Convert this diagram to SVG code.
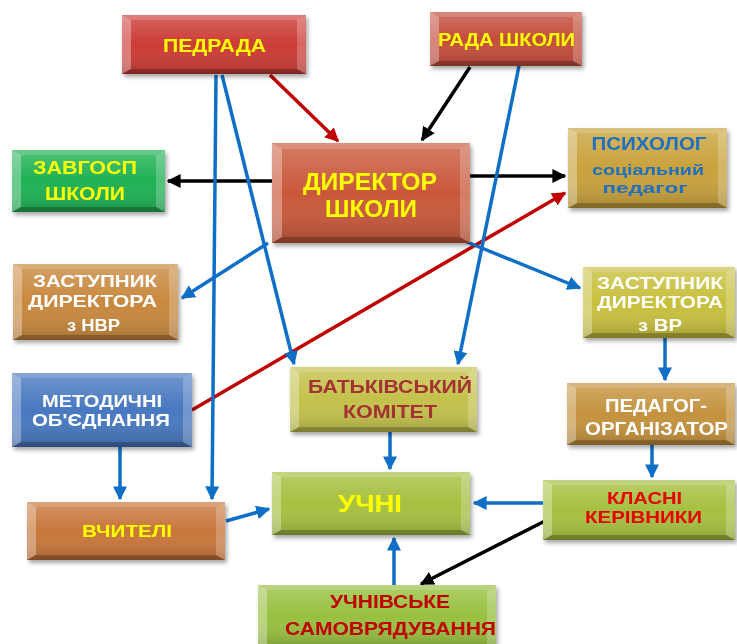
<svg xmlns="http://www.w3.org/2000/svg" width="737" height="644" viewBox="0 0 737 644">
<defs>
<linearGradient id="shade" x1="0" y1="0" x2="0" y2="1">
<stop offset="0" stop-color="#fff" stop-opacity="0.22"/>
<stop offset="0.5" stop-color="#fff" stop-opacity="0"/>
<stop offset="1" stop-color="#000" stop-opacity="0.18"/>
</linearGradient>
<filter id="sh" x="-10%" y="-10%" width="125%" height="130%">
<feDropShadow dx="2" dy="3" stdDeviation="2" flood-color="#000" flood-opacity="0.35"/>
</filter>
<marker id="ab" viewBox="0 0 10 10" refX="9" refY="5" markerWidth="4" markerHeight="4" orient="auto" markerUnits="strokeWidth"><path d="M0,0 L10,5 L0,10 z" fill="#0f6fc6"/></marker>
<marker id="ak" viewBox="0 0 10 10" refX="9" refY="5" markerWidth="4" markerHeight="4" orient="auto" markerUnits="strokeWidth"><path d="M0,0 L10,5 L0,10 z" fill="#000"/></marker>
<marker id="ar" viewBox="0 0 10 10" refX="9" refY="5" markerWidth="4" markerHeight="4" orient="auto" markerUnits="strokeWidth"><path d="M0,0 L10,5 L0,10 z" fill="#c00000"/></marker>
</defs>
<style>
text{font-family:"Liberation Sans",Arial,sans-serif;font-weight:bold;text-anchor:middle}
.bl{fill:#fff;opacity:0.32}
.br{fill:#fff;opacity:0.22}
.bt{fill:#fff;opacity:0.15}
.bb{fill:#000;opacity:0.22}
.c{fill:none;stroke-width:3.5}
.cb{stroke:#0f6fc6;marker-end:url(#ab)}
.ck{stroke:#000;marker-end:url(#ak)}
.cr{stroke:#c00000;marker-end:url(#ar)}
.y{fill:#ffff00}
.w{fill:#fff}
</style>
<rect width="737" height="644" fill="#fff"/>

<g id="connectors">
<line class="c cr" x1="270" y1="75" x2="338" y2="141"/>
<line class="c ck" x1="470" y1="67" x2="422" y2="140"/>
<line class="c ck" x1="272" y1="181" x2="168" y2="181"/>
<line class="c ck" x1="470" y1="176" x2="565" y2="176"/>
<line class="c cr" x1="192" y1="410" x2="565" y2="193"/>
<line class="c cb" x1="216" y1="75" x2="212" y2="499"/>
<line class="c cb" x1="222" y1="75" x2="294" y2="364"/>
<line class="c cb" x1="519" y1="66" x2="458" y2="364"/>
<line class="c cb" x1="268" y1="243" x2="182" y2="298"/>
<line class="c cb" x1="462" y1="240" x2="580" y2="288"/>
<line class="c cb" x1="665" y1="338" x2="665" y2="380"/>
<line class="c cb" x1="652" y1="445" x2="652" y2="477"/>
<line class="c cb" x1="390" y1="432" x2="390" y2="469"/>
<line class="c cb" x1="543" y1="503" x2="474" y2="503"/>
<line class="c cb" x1="226" y1="521" x2="269" y2="509"/>
<line class="c cb" x1="394" y1="585" x2="394" y2="538"/>
<line class="c ck" x1="545" y1="521" x2="421" y2="584"/>
<line class="c cb" x1="120" y1="447" x2="120" y2="499"/>
</g>

<g id="pedrada" filter="url(#sh)">
<rect x="122" y="15" width="184" height="59" fill="#cc3b35"/>
<rect x="122" y="15" width="184" height="59" fill="url(#shade)"/>
<polygon class="bl" points="122,15 131,20 131,69 122,74"/>
<polygon class="br" points="306,15 297,20 297,69 306,74"/>
<polygon class="bt" points="122,15 306,15 297,20 131,20"/>
<polygon class="bb" points="122,74 306,74 297,69 131,69"/>
<text class="y" x="214.5" y="52" font-size="19" textLength="103" lengthAdjust="spacingAndGlyphs">ПЕДРАДА</text>
</g>

<g id="rada" filter="url(#sh)">
<rect x="430" y="12" width="152" height="54" fill="#c44d3c"/>
<rect x="430" y="12" width="152" height="54" fill="url(#shade)"/>
<polygon class="bl" points="430,12 439,17 439,61 430,66"/>
<polygon class="br" points="582,12 573,17 573,61 582,66"/>
<polygon class="bt" points="430,12 582,12 573,17 439,17"/>
<polygon class="bb" points="430,66 582,66 573,61 439,61"/>
<text class="y" x="506.5" y="46" font-size="19" textLength="137" lengthAdjust="spacingAndGlyphs">РАДА ШКОЛИ</text>
</g>

<g id="dyrektor" filter="url(#sh)">
<rect x="272" y="143" width="198" height="100" fill="#c9583a"/>
<rect x="272" y="143" width="198" height="100" fill="url(#shade)"/>
<polygon class="bl" points="272,143 282,149 282,237 272,243"/>
<polygon class="br" points="470,143 460,149 460,237 470,243"/>
<polygon class="bt" points="272,143 470,143 460,149 282,149"/>
<polygon class="bb" points="272,243 470,243 460,237 282,237"/>
<text class="y" x="370" y="190" font-size="24" textLength="134" lengthAdjust="spacingAndGlyphs">ДИРЕКТОР</text>
<text class="y" x="371" y="217" font-size="24" textLength="92" lengthAdjust="spacingAndGlyphs">ШКОЛИ</text>
</g>

<g id="psycholog" filter="url(#sh)">
<rect x="568" y="128" width="159" height="80" fill="#c9a23c"/>
<rect x="568" y="128" width="159" height="80" fill="url(#shade)"/>
<polygon class="bl" points="568,128 577,133 577,203 568,208"/>
<polygon class="br" points="727,128 718,133 718,203 727,208"/>
<polygon class="bt" points="568,128 727,128 718,133 577,133"/>
<polygon class="bb" points="568,208 727,208 718,203 577,203"/>
<text x="649" y="150" font-size="18" fill="#1f6fc0" textLength="115" lengthAdjust="spacingAndGlyphs">ПСИХОЛОГ</text>
<text x="648" y="175" font-size="15" fill="#1f6fc0" textLength="112" lengthAdjust="spacingAndGlyphs">соціальний</text>
<text x="645" y="193" font-size="15" fill="#1f6fc0" textLength="85" lengthAdjust="spacingAndGlyphs">педагог</text>
</g>

<g id="zavgosp" filter="url(#sh)">
<rect x="12" y="150" width="153" height="62" fill="#1fb154"/>
<rect x="12" y="150" width="153" height="62" fill="url(#shade)"/>
<polygon class="bl" points="12,150 21,155 21,207 12,212"/>
<polygon class="br" points="165,150 156,155 156,207 165,212"/>
<polygon class="bt" points="12,150 165,150 156,155 21,155"/>
<polygon class="bb" points="12,212 165,212 156,207 21,207"/>
<text class="y" x="85" y="174" font-size="18" textLength="104" lengthAdjust="spacingAndGlyphs">ЗАВГОСП</text>
<text class="y" x="85" y="200" font-size="18" textLength="80" lengthAdjust="spacingAndGlyphs">ШКОЛИ</text>
</g>

<g id="nvr" filter="url(#sh)">
<rect x="13" y="264" width="165" height="76" fill="#c8883e"/>
<rect x="13" y="264" width="165" height="76" fill="url(#shade)"/>
<polygon class="bl" points="13,264 22,269 22,335 13,340"/>
<polygon class="br" points="178,264 169,269 169,335 178,340"/>
<polygon class="bt" points="13,264 178,264 169,269 22,269"/>
<polygon class="bb" points="13,340 178,340 169,335 22,335"/>
<text class="w" x="95" y="287" font-size="17" textLength="124" lengthAdjust="spacingAndGlyphs">ЗАСТУПНИК</text>
<text class="w" x="92.5" y="307" font-size="17" textLength="129" lengthAdjust="spacingAndGlyphs">ДИРЕКТОРА</text>
<text class="w" x="93.5" y="331" font-size="16" textLength="53" lengthAdjust="spacingAndGlyphs">з НВР</text>
</g>

<g id="vr" filter="url(#sh)">
<rect x="583" y="267" width="152" height="71" fill="#c8c03e"/>
<rect x="583" y="267" width="152" height="71" fill="url(#shade)"/>
<polygon class="bl" points="583,267 592,272 592,333 583,338"/>
<polygon class="br" points="735,267 726,272 726,333 735,338"/>
<polygon class="bt" points="583,267 735,267 726,272 592,272"/>
<polygon class="bb" points="583,338 735,338 726,333 592,333"/>
<text class="w" x="660" y="289" font-size="16" textLength="126" lengthAdjust="spacingAndGlyphs">ЗАСТУПНИК</text>
<text class="w" x="660" y="308" font-size="16" textLength="126" lengthAdjust="spacingAndGlyphs">ДИРЕКТОРА</text>
<text class="w" x="660" y="331" font-size="16" textLength="44" lengthAdjust="spacingAndGlyphs">з ВР</text>
</g>

<g id="metod" filter="url(#sh)">
<rect x="12" y="373" width="180" height="74" fill="#4878c0"/>
<rect x="12" y="373" width="180" height="74" fill="url(#shade)"/>
<polygon class="bl" points="12,373 21,378 21,442 12,447"/>
<polygon class="br" points="192,373 183,378 183,442 192,447"/>
<polygon class="bt" points="12,373 192,373 183,378 21,378"/>
<polygon class="bb" points="12,447 192,447 183,442 21,442"/>
<text class="w" x="102" y="407" font-size="17" textLength="120" lengthAdjust="spacingAndGlyphs">МЕТОДИЧНІ</text>
<text class="w" x="101" y="426" font-size="17" textLength="138" lengthAdjust="spacingAndGlyphs">ОБ'ЄДНАННЯ</text>
</g>

<g id="batk" filter="url(#sh)">
<rect x="290" y="367" width="187" height="65" fill="#c4c24c"/>
<rect x="290" y="367" width="187" height="65" fill="url(#shade)"/>
<polygon class="bl" points="290,367 299,372 299,427 290,432"/>
<polygon class="br" points="477,367 468,372 468,427 477,432"/>
<polygon class="bt" points="290,367 477,367 468,372 299,372"/>
<polygon class="bb" points="290,432 477,432 468,427 299,427"/>
<text x="390" y="393" font-size="18" fill="#a33232" textLength="164" lengthAdjust="spacingAndGlyphs">БАТЬКІВСЬКИЙ</text>
<text x="390" y="418" font-size="18" fill="#a33232" textLength="94" lengthAdjust="spacingAndGlyphs">КОМІТЕТ</text>
</g>

<g id="pedorg" filter="url(#sh)">
<rect x="567" y="383" width="168" height="62" fill="#c4923e"/>
<rect x="567" y="383" width="168" height="62" fill="url(#shade)"/>
<polygon class="bl" points="567,383 576,388 576,440 567,445"/>
<polygon class="br" points="735,383 726,388 726,440 735,445"/>
<polygon class="bt" points="567,383 735,383 726,388 576,388"/>
<polygon class="bb" points="567,445 735,445 726,440 576,440"/>
<text class="w" x="656" y="412" font-size="18" textLength="102" lengthAdjust="spacingAndGlyphs">ПЕДАГОГ-</text>
<text class="w" x="656.5" y="435" font-size="18" textLength="143" lengthAdjust="spacingAndGlyphs">ОРГАНІЗАТОР</text>
</g>

<g id="uchni" filter="url(#sh)">
<rect x="272" y="472" width="198" height="63" fill="#a6c040"/>
<rect x="272" y="472" width="198" height="63" fill="url(#shade)"/>
<polygon class="bl" points="272,472 281,477 281,530 272,535"/>
<polygon class="br" points="470,472 461,477 461,530 470,535"/>
<polygon class="bt" points="272,472 470,472 461,477 281,477"/>
<polygon class="bb" points="272,535 470,535 461,530 281,530"/>
<text class="y" x="370" y="512" font-size="23" textLength="64" lengthAdjust="spacingAndGlyphs">УЧНІ</text>
</g>

<g id="klasni" filter="url(#sh)">
<rect x="543" y="480" width="192" height="60" fill="#a6c040"/>
<rect x="543" y="480" width="192" height="60" fill="url(#shade)"/>
<polygon class="bl" points="543,480 552,485 552,535 543,540"/>
<polygon class="br" points="735,480 726,485 726,535 735,540"/>
<polygon class="bt" points="543,480 735,480 726,485 552,485"/>
<polygon class="bb" points="543,540 735,540 726,535 552,535"/>
<text x="644.5" y="504" font-size="17" fill="#e80000" textLength="75" lengthAdjust="spacingAndGlyphs">КЛАСНІ</text>
<text x="643.5" y="523" font-size="17" fill="#e80000" textLength="117" lengthAdjust="spacingAndGlyphs">КЕРІВНИКИ</text>
</g>

<g id="vchyteli" filter="url(#sh)">
<rect x="27" y="502" width="198" height="58" fill="#c8763a"/>
<rect x="27" y="502" width="198" height="58" fill="url(#shade)"/>
<polygon class="bl" points="27,502 36,507 36,555 27,560"/>
<polygon class="br" points="225,502 216,507 216,555 225,560"/>
<polygon class="bt" points="27,502 225,502 216,507 36,507"/>
<polygon class="bb" points="27,560 225,560 216,555 36,555"/>
<text class="y" x="127" y="537" font-size="17" textLength="90" lengthAdjust="spacingAndGlyphs">ВЧИТЕЛІ</text>
</g>

<g id="samovr" filter="url(#sh)">
<rect x="258" y="585" width="238" height="62" fill="#98c040"/>
<rect x="258" y="585" width="238" height="62" fill="url(#shade)"/>
<polygon class="bl" points="258,585 267,590 267,647 258,647"/>
<polygon class="br" points="496,585 487,590 487,647 496,647"/>
<polygon class="bt" points="258,585 496,585 487,590 267,590"/>
<text x="390" y="608" font-size="18" fill="#c00000" textLength="120" lengthAdjust="spacingAndGlyphs">УЧНІВСЬКЕ</text>
<text x="390.5" y="635" font-size="18" fill="#c00000" textLength="211" lengthAdjust="spacingAndGlyphs">САМОВРЯДУВАННЯ</text>
</g>
</svg>
